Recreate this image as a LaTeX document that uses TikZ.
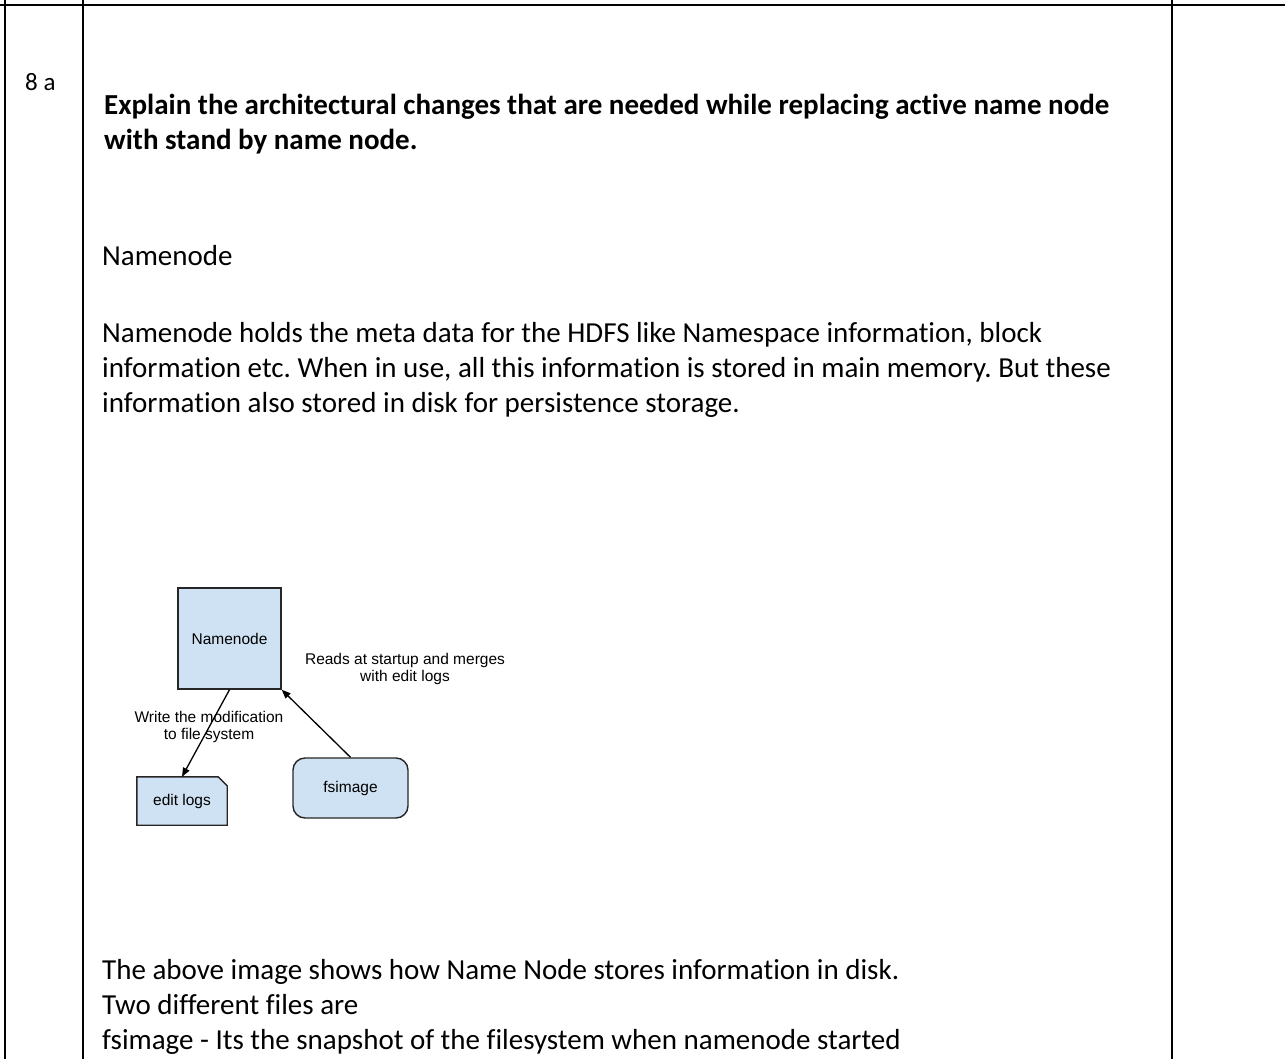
\documentclass[tikz,border=0pt]{standalone}
\usepackage{fontspec}
\setmainfont{Carlito}[Ligatures=NoCommon]
\newfontfamily\diagfont{Liberation Sans}
\usetikzlibrary{arrows.meta,calc,backgrounds}
\definecolor{boxblue}{HTML}{CFE2F3}
\frenchspacing
\begin{document}
\begin{tikzpicture}[x=1pt,y=-1pt,
  rule/.style={line width=2.2pt},
  body/.style={anchor=base west,inner sep=0pt,font=\fontsize{29}{35}\selectfont},
  bodybold/.style={anchor=base west,inner sep=0pt,font=\fontsize{29}{35}\selectfont\bfseries},
  dlabel/.style={font=\diagfont\fontsize{15.5}{17.5}\selectfont,align=center,inner sep=0pt},
  boxstyle/.style={draw=black!85,line width=1.4pt,fill=boxblue},
  conn/.style={line width=1.3pt,-{Triangle[length=9pt,width=7pt]}}
]
\useasboundingbox (0,0) rectangle (1285,1059);
% table rules
\draw[rule] (0,5) -- (1285,5);
\draw[rule] (5,0) -- (5,1059);
\draw[rule] (83,0) -- (83,1059);
\draw[rule] (1172,0) -- (1172,1059);
% texts
\node[anchor=base west,inner sep=0pt,font=\fontsize{25}{30}\selectfont] (num) at (25,91) {8 a};
\node[bodybold] (q1) at (104,115) {Explain the architectural changes that are needed while replacing active name node};
\node[bodybold] (q2) at (104,150) {with stand by name node.};
\node[body] (h) at (102,266) {Namenode};
\node[body] (p1) at (102,342) {Namenode holds the meta data for the HDFS like Namespace information, block};
\node[body] (p2) at (102,377) {information etc. When in use, all this information is stored in main memory. But these};
\node[body] (p3) at (102,412) {information also stored in disk for persistence storage.};
\node[body] (b1) at (102,979) {The above image shows how Name Node stores information in disk.};
\node[body] (b2) at (102,1014) {Two different files are};
\node[body] (b3) at (102,1049) {fsimage - Its the snapshot of the filesystem when namenode started};
% diagram
\node[boxstyle,dlabel,minimum width=103,minimum height=101] (nn) at (229.5,638.5) {Namenode};
\node[dlabel,minimum width=90,minimum height=48] (el) at (182,801) {edit logs};
\begin{scope}[on background layer]
\draw[boxstyle] (el.south west) -- (el.north west) -- ($(el.north east)+(-9,0)$)
  -- ($(el.north east)+(0,9)$) -- (el.south east) -- cycle;
\end{scope}
\node[boxstyle,dlabel,rounded corners=12,minimum width=115,minimum height=60] (fs) at (350.5,788) {fsimage};
\draw[conn] (nn.south) -- (el.north);
\draw[conn] (fs.north) -- (nn.south east);
\node[dlabel] (lw) at (209,727) {Write the modification\\to file system};
\node[dlabel] (lr) at (405,669) {Reads at startup and merges\\with edit logs};
\end{tikzpicture}
\end{document}
